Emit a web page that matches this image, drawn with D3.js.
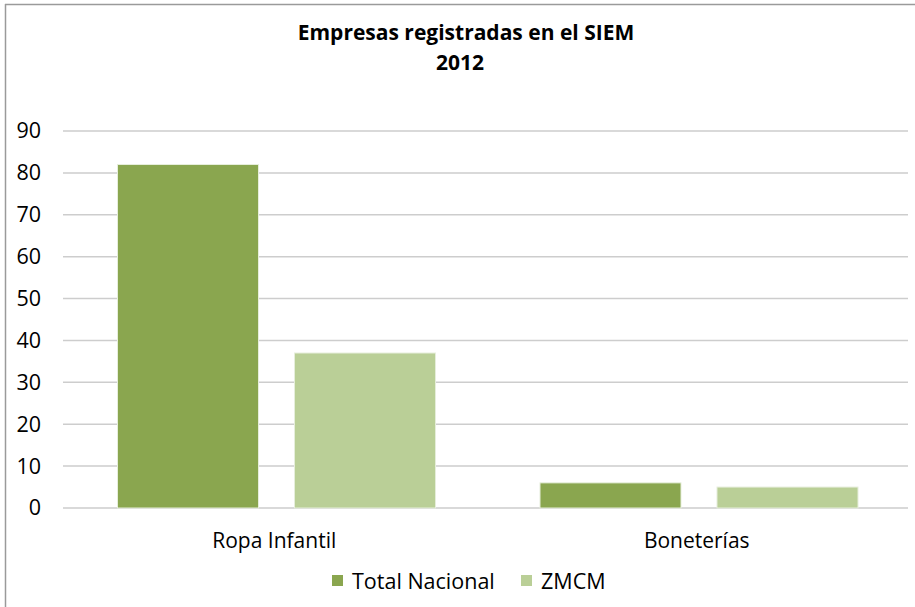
<!DOCTYPE html>
<meta charset="utf-8">
<style>
  body { margin: 0; background: #fff; }
  svg { display: block; }
  .title { font-family: 'Open Sans', sans-serif; font-weight: bold; font-size: 21px; fill: #000; }
  .axis text { font-family: 'Open Sans', sans-serif; font-size: 21.5px; fill: #000; }
  .grid line { stroke: #cdcdcd; stroke-width: 1.5; }
  .cat { font-family: 'Open Sans', sans-serif; font-size: 21px; fill: #000; }
  .legend text { font-family: 'Open Sans', sans-serif; font-size: 21.5px; fill: #000; }
</style>
<body>
<script src="https://d3js.org/d3.v7.min.js"></script>
<script>

var categories = ["Ropa Infantil", "Boneterías"];
var series = ["Total Nacional", "ZMCM"];
var totalNacional = [82, 6];
var zmcm = [37, 5];
var yTicks = [0, 10, 20, 30, 40, 50, 60, 70, 80, 90];
var colors = ["#8aa64f", "#bacf97"];

var width = 915,
    height = 607;

var plot = {left: 63, right: 908, top: 131, bottom: 508};

var svg = d3.select("body").append("svg")
    .attr("width", width)
    .attr("height", height);

// frame (only top and left edges show)
svg.append("line")
    .attr("x1", 5).attr("x2", width).attr("y1", 4.5).attr("y2", 4.5)
    .attr("stroke", "#9a9a9a").attr("stroke-width", 1.5);
svg.append("line")
    .attr("x1", 5.5).attr("x2", 5.5).attr("y1", 4).attr("y2", height)
    .attr("stroke", "#9a9a9a").attr("stroke-width", 1.5);

svg.append("text").attr("class", "title")
    .attr("x", 466).attr("y", 40).attr("text-anchor", "middle")
    .text("Empresas registradas en el SIEM");
svg.append("text").attr("class", "title")
    .attr("x", 460).attr("y", 70).attr("text-anchor", "middle")
    .text("2012");

var y = d3.scaleLinear().domain([0, 90]).range([plot.bottom, plot.top]);

var x0 = d3.scaleBand().domain(categories).range([plot.left, plot.right]);
var x1 = d3.scaleBand().domain(series)
    .range([54.5, 372.5])
    .paddingInner(0.2034);

svg.append("g").attr("class", "grid")
    .selectAll("line").data(yTicks)
  .enter().append("line")
    .attr("x1", plot.left).attr("x2", plot.right)
    .attr("y1", d => y(d)).attr("y2", d => y(d));

var yAxis = svg.append("g").attr("class", "axis")
    .attr("transform", "translate(" + (plot.left - 22) + ",0)")
    .call(d3.axisLeft(y).tickValues(yTicks).tickSize(0).tickPadding(0));
yAxis.select(".domain").remove();

var rows = categories.map((c, i) => ({cat: c, values: [totalNacional[i], zmcm[i]]}));

svg.append("g").selectAll("g").data(rows)
  .enter().append("g")
    .attr("transform", d => "translate(" + x0(d.cat) + ",0)")
    .selectAll("rect").data(d => d.values.map((v, j) => ({s: series[j], v: v, j: j})))
  .enter().append("rect")
    .attr("x", d => x1(d.s))
    .attr("width", x1.bandwidth())
    .attr("y", d => y(d.v))
    .attr("height", d => y(0) - y(d.v))
    .attr("fill", d => colors[d.j])
    .attr("stroke", "#e6eedb")
    .attr("stroke-width", 1);

svg.append("g").selectAll("text").data(categories)
  .enter().append("text").attr("class", "cat")
    .attr("x", d => x0(d) + x0.bandwidth() / 2)
    .attr("y", 548)
    .attr("text-anchor", "middle")
    .text(d => d);

var legendX = [332, 521];
var lg = svg.append("g").attr("class", "legend")
    .selectAll("g").data(series)
  .enter().append("g")
    .attr("transform", (d, i) => "translate(" + legendX[i] + ",575)");
lg.append("rect").attr("width", 11).attr("height", 11)
    .attr("fill", (d, i) => colors[i]);
lg.append("text").attr("x", 20).attr("y", 14).text(d => d);

</script>
</body>
